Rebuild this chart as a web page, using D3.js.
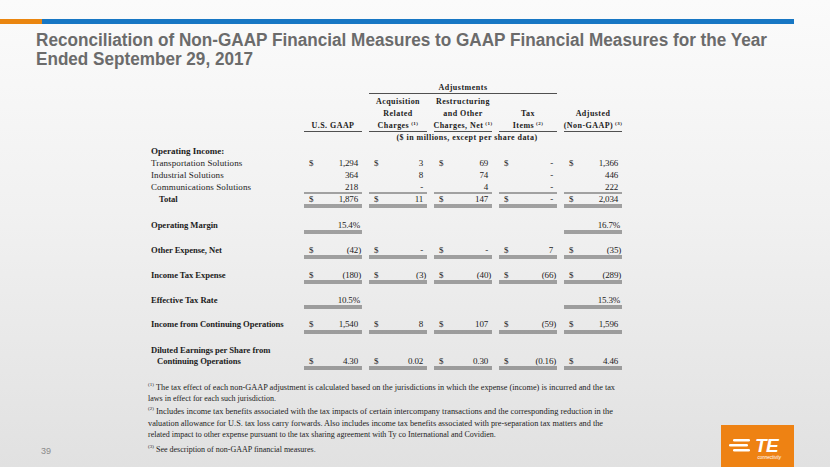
<!DOCTYPE html>
<html>
<head>
<meta charset="utf-8">
<script src="https://cdn.jsdelivr.net/npm/d3@7"></script>
<style>
  html, body { margin: 0; padding: 0; background: #efefef; }
  svg { display: block; }
</style>
</head>
<body>
<svg id="chart" width="830" height="467"></svg>
<script>
// ---------- DATA ----------
const titleLines = [
  "Reconciliation of Non-GAAP Financial Measures to GAAP Financial Measures for the Year",
  "Ended September 29, 2017"
];
const columns = ["gaap", "acq", "restr", "tax", "adj"];
const columnHeaders = [
  ["U.S. GAAP"],
  ["Acquisition", "Related", "Charges"],
  ["Restructuring", "and Other", "Charges, Net"],
  ["Tax", "Items"],
  ["Adjusted", "(Non-GAAP)"]
];
const columnNotes = ["", "(1)", "(1)", "(2)", "(3)"];
const groupHeader = "Adjustments";
const unitsNote = "($ in millions, except per share data)";

const rowLabels = [
  "Transportation Solutions", "Industrial Solutions", "Communications Solutions", "Total",
  "Operating Margin", "Other Expense, Net", "Income Tax Expense", "Effective Tax Rate",
  "Income from Continuing Operations", "Diluted Earnings per Share from|Continuing Operations"
];
const rowValues = [
  ["1,294", "3", "69", "-", "1,366"],
  ["364", "8", "74", "-", "446"],
  ["218", "-", "4", "-", "222"],
  ["1,876", "11", "147", "-", "2,034"],
  ["15.4%", null, null, null, "16.7%"],
  ["(42)", "-", "-", "7", "(35)"],
  ["(180)", "(3)", "(40)", "(66)", "(289)"],
  ["10.5%", null, null, null, "15.3%"],
  ["1,540", "8", "107", "(59)", "1,596"],
  ["4.30", "0.02", "0.30", "(0.16)", "4.46"]
];
const sectionLabel = "Operating Income:";
const footnotes = [
  ["(1)", ["The tax effect of each non-GAAP adjustment is calculated based on the jurisdictions in which the expense (income) is incurred and the tax",
           "laws in effect for each such jurisdiction."]],
  ["(2)", ["Includes income tax benefits associated with the tax impacts of certain intercompany transactions and the corresponding reduction in the",
           "valuation allowance for U.S. tax loss carry forwards. Also includes income tax benefits associated with pre-separation tax matters and the",
           "related impact to other expense pursuant to the tax sharing agreement with Ty co International and Covidien."]],
  ["(3)", ["See description of non-GAAP financial measures."]]
];
const pageNumber = "39";

// ---------- LAYOUT ----------
const svg = d3.select("#chart");
const W = 830, H = 467;
const serif = "'Liberation Serif', 'Times New Roman', serif";
const sans = "'Liberation Sans', Arial, sans-serif";
const ink = "#1c1c1c";
const ruleCol = "#505050";

// background
const defs = svg.append("defs");
const g1 = defs.append("linearGradient").attr("id", "bg").attr("x1", 0).attr("y1", 0).attr("x2", 0).attr("y2", 1);
g1.append("stop").attr("offset", "0%").attr("stop-color", "#fbfbfb");
g1.append("stop").attr("offset", "45%").attr("stop-color", "#f1f1f1");
g1.append("stop").attr("offset", "100%").attr("stop-color", "#e1e1e1");
svg.append("rect").attr("width", W).attr("height", H).attr("fill", "url(#bg)");

// top bar
svg.append("rect").attr("x", 0).attr("y", 19).attr("width", 42).attr("height", 5).attr("fill", "#ea8610");
svg.append("rect").attr("x", 42).attr("y", 19).attr("width", 752).attr("height", 5).attr("fill", "#1777c4");

// title
svg.selectAll("text.title").data(titleLines).join("text")
  .attr("class", "title")
  .attr("x", 36).attr("y", (d, i) => 46 + i * 19)
  .attr("font-family", sans).attr("font-weight", "bold").attr("font-size", 17.5)
  .attr("fill", "#6b6b6b")
  .attr("textLength", (d, i) => i === 0 ? 731 : 217)
  .attr("lengthAdjust", "spacingAndGlyphs")
  .text(d => d);

// column scale
const x = d3.scaleBand().domain(columns).range([304, 622]).paddingInner(0.108).paddingOuter(0);
const bw = x.bandwidth();

// row y positions (text centers)
const rowY = d3.scaleOrdinal().domain(rowLabels)
  .range([163, 175, 187, 199, 225, 250, 275, 300, 324, 361]);
const ruleBelow = d3.scaleOrdinal().domain(rowLabels)
  .range([null, null, 193, 205, 231, 256, 281, 306, 331, 367]);
const doubleRule = new Set([rowLabels[3], rowLabels[4], rowLabels[5], rowLabels[6], rowLabels[7], rowLabels[8], rowLabels[9]]);
const dollarRows = new Set([rowLabels[0], rowLabels[3], rowLabels[5], rowLabels[6], rowLabels[8], rowLabels[9]]);

// group header
svg.append("text").attr("x", (x("acq") + x("tax") + bw) / 2).attr("y", 90)
  .attr("text-anchor", "middle").attr("font-family", serif).attr("font-weight", "bold")
  .attr("font-size", 8).attr("letter-spacing", 0.5).attr("fill", ink).text(groupHeader);
svg.append("line").attr("x1", x("acq")).attr("x2", x("tax") + bw).attr("y1", 93.5).attr("y2", 93.5)
  .attr("stroke", ruleCol).attr("stroke-width", 1.2);

// column headers (bottom-aligned at y=128)
const hdr = svg.append("g");
columns.forEach((c, ci) => {
  const lines = columnHeaders[ci];
  lines.forEach((ln, li) => {
    const yy = 128 - (lines.length - 1 - li) * 12;
    const t = hdr.append("text").attr("x", x(c) + bw / 2).attr("y", yy)
      .attr("text-anchor", "middle").attr("font-family", serif).attr("font-weight", "bold")
      .attr("font-size", 8).attr("letter-spacing", 0.45).attr("fill", ink).text(ln);
    if (li === lines.length - 1 && columnNotes[ci]) {
      t.append("tspan").attr("font-size", 5).attr("dy", -3).attr("dx", 2).text(columnNotes[ci]);
    }
  });
  hdr.append("line").attr("x1", x(c)).attr("x2", x(c) + bw).attr("y1", 131.5).attr("y2", 131.5)
    .attr("stroke", ruleCol).attr("stroke-width", 1.2);
});
svg.append("text").attr("x", 467).attr("y", 140).attr("text-anchor", "middle")
  .attr("font-family", serif).attr("font-weight", "bold").attr("font-size", 8).attr("letter-spacing", 0.45)
  .attr("fill", ink).text(unitsNote);

// section label
svg.append("text").attr("x", 151).attr("y", 154).attr("font-family", serif).attr("font-weight", "bold")
  .attr("font-size", 9).attr("fill", ink).text(sectionLabel);

// row labels
const boldRows = new Set(rowLabels.slice(3));
rowLabels.forEach((lab, ri) => {
  const parts = lab.split("|");
  const y0 = rowY(lab) + 3;
  parts.forEach((p, pi) => {
    const indent = (lab === "Total") ? 8 : (pi > 0 ? 6 : 0);
    svg.append("text")
      .attr("x", 151 + indent)
      .attr("y", y0 - (parts.length - 1 - pi) * 11)
      .attr("font-family", serif)
      .attr("font-size", boldRows.has(lab) ? 8.6 : 9)
      .attr("font-weight", boldRows.has(lab) ? "bold" : "normal")
      .attr("letter-spacing", boldRows.has(lab) ? -0.05 : 0.1)
      .attr("fill", ink).text(p);
  });
});

// values
const cells = svg.append("g");
rowLabels.forEach((lab, ri) => {
  const vals = rowValues[ri];
  const y0 = rowY(lab) + 3;
  columns.forEach((c, ci) => {
    const v = vals[ci];
    if (v === null) return;
    if (dollarRows.has(lab)) {
      cells.append("text").attr("x", x(c) + 5).attr("y", y0)
        .attr("font-family", serif).attr("font-size", 9).attr("fill", ink).text("$");
    }
    const paren = v.endsWith(")");
    const pct = v.endsWith("%");
    cells.append("text")
      .attr("x", x(c) + bw - 4 + (paren ? 3 : 0) + (pct ? 2 : 0))
      .attr("y", y0).attr("text-anchor", "end")
      .attr("font-family", serif).attr("font-size", 9).attr("fill", ink)
      .attr("letter-spacing", -0.2)
      .text(v);
    const ry = ruleBelow(lab);
    if (ry !== null) {
      if (doubleRule.has(lab)) {
        cells.append("line").attr("x1", x(c)).attr("x2", x(c) + bw).attr("y1", ry).attr("y2", ry)
          .attr("stroke", ruleCol).attr("stroke-width", 1.1);
        cells.append("line").attr("x1", x(c)).attr("x2", x(c) + bw).attr("y1", ry + 2).attr("y2", ry + 2)
          .attr("stroke", ruleCol).attr("stroke-width", 1.1);
      } else {
        cells.append("line").attr("x1", x(c)).attr("x2", x(c) + bw).attr("y1", ry).attr("y2", ry)
          .attr("stroke", ruleCol).attr("stroke-width", 1);
      }
    }
  });
});

// footnotes
const fnY = [[387, 398], [411, 423, 434], [449]];
const fnFit = [[467, null], [465, 455, null], [null]];
footnotes.forEach((fn, fi) => {
  svg.append("text").attr("x", 148).attr("y", fnY[fi][0] - 1)
    .attr("font-family", serif).attr("font-size", 5).attr("fill", ink).text(fn[0]);
  fn[1].forEach((ln, li) => {
    const xx = li === 0 ? 156 : 148;
    const t = svg.append("text").attr("x", xx).attr("y", fnY[fi][li] + 2.5)
      .attr("font-family", serif).attr("font-size", 8).attr("fill", ink).text(ln);
    const fit = fnFit[fi][li];
    if (fit) t.attr("textLength", fit - (xx - 148)).attr("lengthAdjust", "spacingAndGlyphs");
  });
});

// page number
svg.append("text").attr("x", 41).attr("y", 454).attr("font-family", sans).attr("font-size", 9)
  .attr("fill", "#8a8a8a").text(pageNumber);

// logo
const logo = svg.append("g");
logo.append("rect").attr("x", 721).attr("y", 425).attr("width", 73).attr("height", 42).attr("fill", "#ee8213");
[[733, 439, 17], [729, 444, 19], [733, 449, 17]].forEach(s => {
  logo.append("rect").attr("x", s[0]).attr("y", s[1]).attr("width", s[2]).attr("height", 2.6)
    .attr("rx", 1.3).attr("fill", "#fff");
});
logo.append("text").attr("x", 755).attr("y", 452).attr("font-family", sans).attr("font-weight", "bold")
  .attr("font-style", "italic").attr("font-size", 19).attr("fill", "#fff").attr("letter-spacing", -0.5).text("TE");
logo.append("text").attr("x", 781).attr("y", 459).attr("text-anchor", "end").attr("font-family", sans)
  .attr("font-style", "italic").attr("font-size", 4.5).attr("fill", "#fff").text("connectivity");
</script>
</body>
</html>
